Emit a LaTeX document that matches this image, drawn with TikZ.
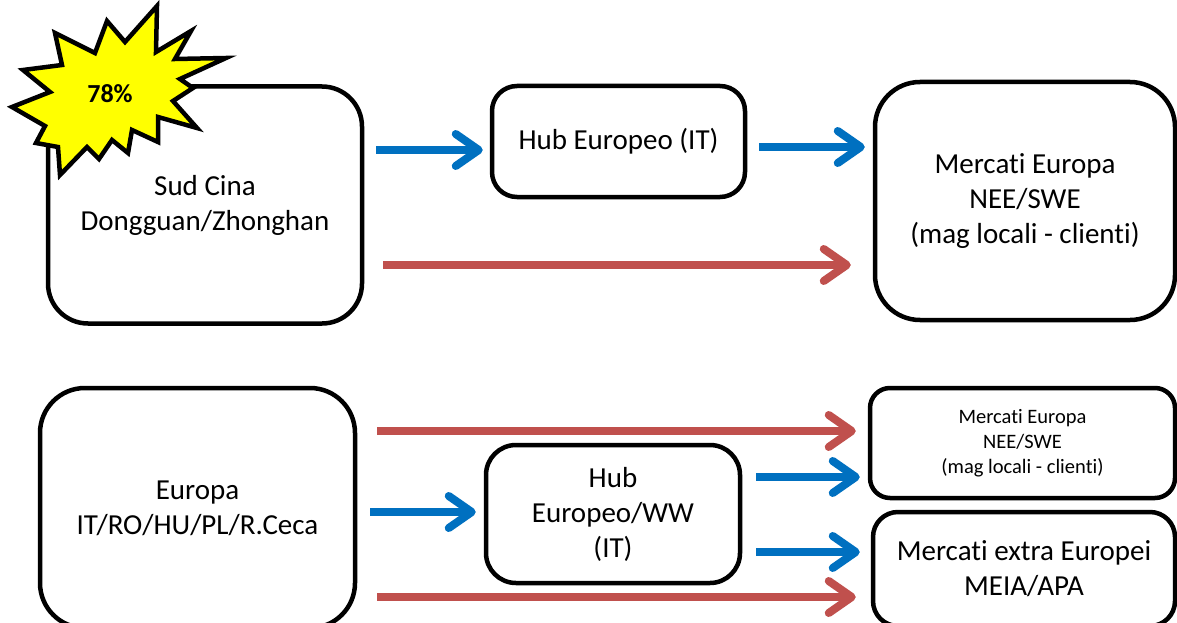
\documentclass[tikz,border=0pt]{standalone}
\usepackage{fontspec}
\setmainfont{Carlito}[Ligatures={NoCommon}]
\usetikzlibrary{arrows.meta}
\definecolor{arrowblue}{HTML}{0070C0}
\definecolor{arrowred}{HTML}{C0504D}
\definecolor{burst}{HTML}{FFFF00}
\begin{document}
\begin{tikzpicture}[x=1pt,y=-1pt,
  rbox/.style={draw=black, line width=4.5pt, rounded corners=#1, align=center, inner sep=0pt, fill=white},
  bigtext/.style={font=\fontsize{29}{35}\selectfont},
  smalltext/.style={font=\fontsize{20.5}{25}\selectfont},
  arr/.style={line width=8pt, -{Straight Barb[length=23pt,width=32pt,round]}},
  bluarr/.style={arr, draw=arrowblue},
  redarr/.style={arr, draw=arrowred}]
\useasboundingbox (0,0) rectangle (1177,623);
\clip (0,0) rectangle (1177,623);
% top row
\node[rbox=40pt, bigtext, minimum width=314pt, minimum height=237pt] (sud) at (205,205) {Sud Cina\\Dongguan/Zhonghan};
\node[rbox=25pt, bigtext, minimum width=253pt, minimum height=111pt] (hubA) at (618.5,141.5) {Hub Europeo (IT)};
\node[rbox=45pt, bigtext, minimum width=300pt, minimum height=238pt] (mercA) at (1025,201) {Mercati Europa\\NEE/SWE\\(mag locali - clienti)};
% bottom row
\node[rbox=45pt, bigtext, minimum width=315pt, minimum height=240pt] (eur) at (197.5,508) {Europa\\IT/RO/HU/PL/R.Ceca};
\node[rbox=30pt, bigtext, minimum width=254pt, minimum height=138pt] (hubB) at (613,514) {Hub\\Europeo/WW\\(IT)};
\node[rbox=20pt, smalltext, minimum width=305pt, minimum height=110pt] (mercB) at (1022.5,443) {Mercati Europa\\NEE/SWE\\(mag locali - clienti)};
\node[rbox=25pt, bigtext, minimum width=302pt, minimum height=114pt] (extra) at (1024,569) {Mercati extra Europei\\MEIA/APA};
% starburst
\draw[fill=burst, line width=4.5pt, line join=miter, miter limit=20]
  (157,6) -- (156,52) -- (191,31) -- (175,59) -- (226,58) -- (180,79) -- (193,88) -- (173,101)
  -- (197,128) -- (158,117) -- (158,142) -- (132,130) -- (128,153) -- (112,140) -- (99,159)
  -- (87,147) -- (60,175) -- (58,147) -- (36,143) -- (45,126) -- (12,107) -- (50,92)
  -- (23,70) -- (62,65) -- (55,33) -- (95,53) -- (107,21) -- (125,42) -- cycle;
\node[font=\fontsize{26}{30}\selectfont\bfseries, inner sep=0pt] (pct) at (110,94) {78\%};
% arrows top
\draw[bluarr] ([shift={(12,-55)}]sud.east) -- ([shift={(-7,8.5)}]hubA.west);
\draw[bluarr] ([shift={(12,5.5)}]hubA.east) -- ([shift={(-8,-54)}]mercA.west);
\draw[redarr] ([shift={(19,60)}]sud.east) -- ([shift={(-22,64)}]mercA.west);
% arrows bottom
\draw[redarr] ([shift={(20,-77)}]eur.east) -- ([shift={(-12,-12)}]mercB.west);
\draw[bluarr] ([shift={(13,4)}]eur.east) -- ([shift={(-8,-2)}]hubB.west);
\draw[bluarr] ([shift={(14,-37)}]hubB.east) -- ([shift={(-8,34)}]mercB.west);
\draw[bluarr] ([shift={(14,38)}]hubB.east) -- ([shift={(-11,-17)}]extra.west);
\draw[redarr] ([shift={(20,89)}]eur.east) -- ([shift={(-15,28)}]extra.west);
\end{tikzpicture}
\end{document}
